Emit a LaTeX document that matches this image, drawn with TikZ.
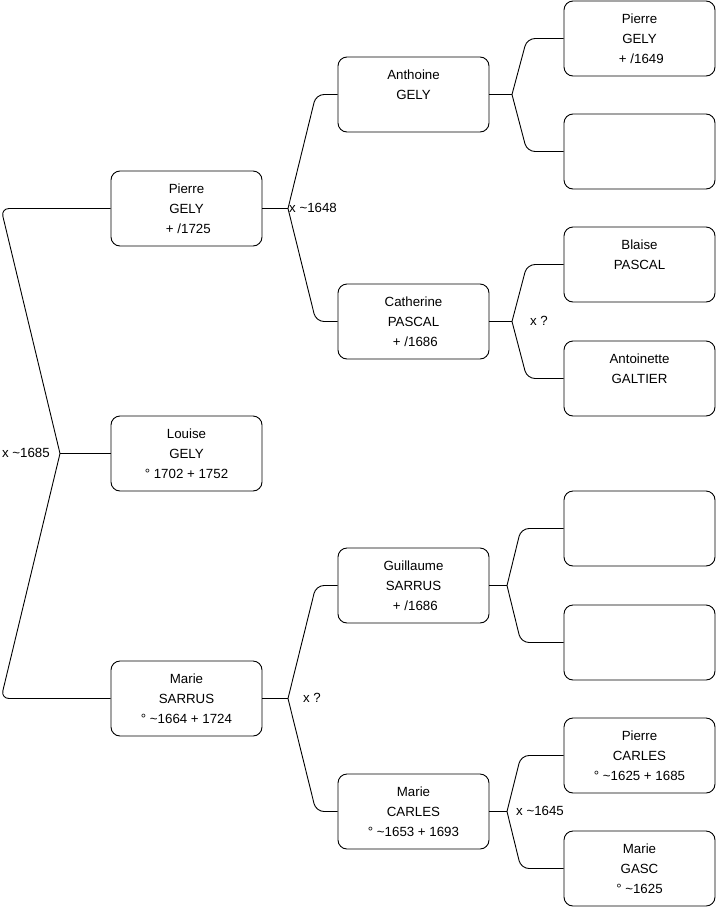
\documentclass[tikz,border=0pt]{standalone}
\usepackage{fontspec}
\setmainfont{Liberation Sans}
\begin{document}
\begin{tikzpicture}[x=1pt,y=-1pt,
  box/.style={draw=black,line width=0.9pt,rounded corners=9pt,minimum width=151pt,minimum height=75pt,
    align=center,inner sep=0pt,font=\fontsize{13.3}{20}\selectfont},
  lnk/.style={draw=black,line width=0.9pt},
  brk/.style={lnk,rounded corners=8pt},
  lbl/.style={font=\fontsize{13.3}{15}\selectfont,inner sep=0pt}]
\useasboundingbox (0,0) rectangle (716,908);
% column 1
\node[box] (pg) at (186.5,208.5) {Pierre\\GELY\\\ + /1725};
\node[box] (lg) at (186.5,453.5) {Louise\\GELY\\° 1702 + 1752};
\node[box] (ms) at (186.5,698.5) {Marie\\SARRUS\\° \textasciitilde1664 + 1724};
% column 2
\node[box] (ag) at (413.5,94.5) {Anthoine\\GELY\\\mbox{}};
\node[box] (cp) at (413.5,321.5) {Catherine\\PASCAL\\\ + /1686};
\node[box] (gs) at (413.5,585.5) {Guillaume\\SARRUS\\\ + /1686};
\node[box] (mc) at (413.5,811.5) {Marie\\CARLES\\° \textasciitilde1653 + 1693};
% column 3
\node[box] (pg2) at (639.5,38.5) {Pierre\\GELY\\\ + /1649};
\node[box] (e1) at (639.5,151.5) {};
\node[box] (bp) at (639.5,264.5) {Blaise\\PASCAL\\\mbox{}};
\node[box] (ga) at (639.5,378.5) {Antoinette\\GALTIER\\\mbox{}};
\node[box] (e2) at (639.5,528.5) {};
\node[box] (e3) at (639.5,642.5) {};
\node[box] (pc) at (639.5,755.5) {Pierre\\CARLES\\° \textasciitilde1625 + 1685};
\node[box] (mg) at (639.5,868.5) {Marie\\GASC\\° \textasciitilde1625};
% junctions
\coordinate (j1) at (60,453.5);
\coordinate (j2) at (288,208.5);
\coordinate (j3) at (288,698.5);
\coordinate (j4) at (512,94.5);
\coordinate (j5) at (512,321.5);
\coordinate (j6) at (507,585.5);
\coordinate (j7) at (507,811.5);
% level 1
\draw[lnk] (lg.west) -- (j1);
\draw[brk] (j1) -- (1,208.5) -- (pg.west);
\draw[brk] (j1) -- (1,698.5) -- (ms.west);
% level 2
\draw[lnk] (pg.east) -- (j2);
\draw[brk] (j2) -- (316,94.5) -- (ag.west);
\draw[brk] (j2) -- (316,321.5) -- (cp.west);
\draw[lnk] (ms.east) -- (j3);
\draw[brk] (j3) -- (316,585.5) -- (gs.west);
\draw[brk] (j3) -- (316,811.5) -- (mc.west);
% level 3
\draw[lnk] (ag.east) -- (j4);
\draw[brk] (j4) -- (527,38.5) -- (pg2.west);
\draw[brk] (j4) -- (527,151.5) -- (e1.west);
\draw[lnk] (cp.east) -- (j5);
\draw[brk] (j5) -- (527,264.5) -- (bp.west);
\draw[brk] (j5) -- (527,378.5) -- (ga.west);
\draw[lnk] (gs.east) -- (j6);
\draw[brk] (j6) -- (521,528.5) -- (e2.west);
\draw[brk] (j6) -- (521,642.5) -- (e3.west);
\draw[lnk] (mc.east) -- (j7);
\draw[brk] (j7) -- (521,755.5) -- (pc.west);
\draw[brk] (j7) -- (521,868.5) -- (mg.west);
% labels
\node[lbl,anchor=east] (l1) at (50,452.5) {x \textasciitilde1685};
\node[lbl,anchor=west] (l2) at (289,207.5) {x \textasciitilde1648};
\node[lbl] (l3) at (539,320.5) {x ?};
\node[lbl] (l4) at (312,698) {x ?};
\node[lbl,anchor=west] (l5) at (516,811) {x \textasciitilde1645};
\end{tikzpicture}
\end{document}
